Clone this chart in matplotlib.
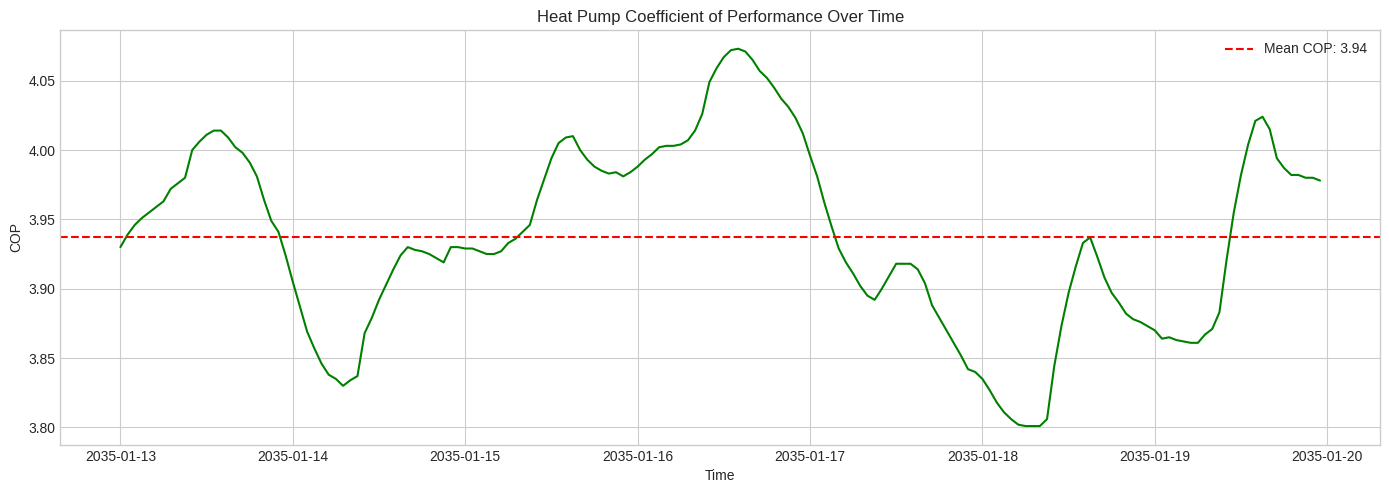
import matplotlib
matplotlib.use("Agg")
import matplotlib.pyplot as plt
import numpy as np
import pandas as pd

start = "2035-01-13 00:00"
cop_values = [
    3.930, 3.939, 3.946, 3.951, 3.955, 3.959, 3.963, 3.972, 3.976, 3.980, 4.000, 4.006,
    4.011, 4.014, 4.014, 4.009, 4.002, 3.998, 3.991, 3.981, 3.964, 3.949, 3.941, 3.924,
    3.905, 3.887, 3.869, 3.857, 3.846, 3.838, 3.835, 3.830, 3.834, 3.837, 3.868, 3.879,
    3.892, 3.903, 3.914, 3.924, 3.930, 3.928, 3.927, 3.925, 3.922, 3.919, 3.930, 3.930,
    3.929, 3.929, 3.927, 3.925, 3.925, 3.927, 3.933, 3.936, 3.941, 3.946, 3.964, 3.979,
    3.994, 4.005, 4.009, 4.010, 4.000, 3.993, 3.988, 3.985, 3.983, 3.984, 3.981, 3.984,
    3.988, 3.993, 3.997, 4.002, 4.003, 4.003, 4.004, 4.007, 4.014, 4.026, 4.049, 4.059,
    4.067, 4.072, 4.073, 4.071, 4.065, 4.057, 4.052, 4.045, 4.037, 4.031, 4.023, 4.012,
    3.996, 3.981, 3.962, 3.945, 3.929, 3.919, 3.911, 3.902, 3.895, 3.892, 3.900, 3.909,
    3.918, 3.918, 3.918, 3.914, 3.904, 3.888, 3.879, 3.870, 3.861, 3.852, 3.842, 3.840,
    3.835, 3.827, 3.818, 3.811, 3.806, 3.802, 3.801, 3.801, 3.801, 3.806, 3.844, 3.873,
    3.897, 3.916, 3.933, 3.937, 3.923, 3.908, 3.897, 3.890, 3.882, 3.878, 3.876, 3.873,
    3.870, 3.864, 3.865, 3.863, 3.862, 3.861, 3.861, 3.867, 3.871, 3.883, 3.921, 3.955,
    3.982, 4.004, 4.021, 4.024, 4.015, 3.994, 3.987, 3.982, 3.982, 3.980, 3.980, 3.978,
]

times = pd.date_range(start, periods=len(cop_values), freq="h")
df = pd.DataFrame({"time": times, "cop": cop_values})
mean_cop = np.mean(cop_values)

plt.style.use("seaborn-v0_8-whitegrid")
fig, ax = plt.subplots(figsize=(13.89, 4.9), dpi=100)

ax.plot(df.time, df.cop, color="green", linewidth=1.5)
ax.axhline(mean_cop, color="red", linestyle="--", linewidth=1.5, label=f"Mean COP: {mean_cop:.2f}")

ax.set_title("Heat Pump Coefficient of Performance Over Time")
ax.set_xlabel("Time")
ax.set_ylabel("COP")
ax.legend(loc="upper right")

fig.subplots_adjust(left=0.0435, right=0.9935, top=0.939, bottom=0.092)
fig.savefig("out.png")
